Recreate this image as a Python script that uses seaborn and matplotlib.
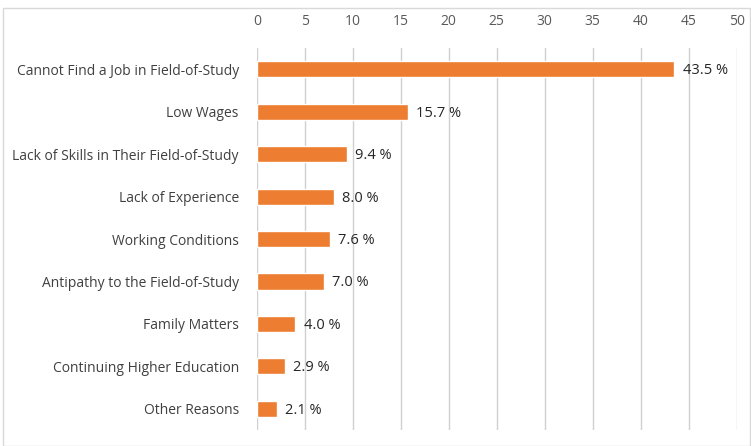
import matplotlib
matplotlib.use("Agg")
import matplotlib.pyplot as plt
import pandas as pd
import seaborn as sns
from matplotlib.patches import Rectangle

# data
reasons = [
    "Cannot Find a Job in Field-of-Study",
    "Low Wages",
    "Lack of Skills in Their Field-of-Study",
    "Lack of Experience",
    "Working Conditions",
    "Antipathy to the Field-of-Study",
    "Family Matters",
    "Continuing Higher Education",
    "Other Reasons",
]
percent = [43.5, 15.7, 9.4, 8.0, 7.6, 7.0, 4.0, 2.9, 2.1]
xticks = [0, 5, 10, 15, 20, 25, 30, 35, 40, 45, 50]

df = pd.DataFrame({"reason": reasons, "percent": percent})

sns.set_style("white")
plt.rcParams["font.family"] = ["Open Sans", "DejaVu Sans"]

fig = plt.figure(figsize=(7.51, 4.46), dpi=100)
ax = fig.add_axes([0.342, 0.036, 0.639, 0.856])

sns.barplot(data=df, x="percent", y="reason", color="#ED7D31", width=0.38,
            saturation=1, ax=ax, zorder=3)

ax.set_xlim(0, 50)
ax.set_xticks(xticks)
ax.xaxis.tick_top()
ax.tick_params(axis="x", length=0, pad=14, labelsize=10, labelcolor="#595959")
ax.tick_params(axis="y", length=0, pad=13, labelsize=10, labelcolor="#404040")
ax.set_xlabel("")
ax.set_ylabel("")
ax.grid(axis="x", color="#D0D0D0", linewidth=1, zorder=0)
for s in ax.spines.values():
    s.set_visible(False)

# value labels
for i, v in enumerate(percent):
    ax.annotate(f"{v:.1f} %", (v, i), xytext=(6, -1), textcoords="offset points",
                va="center", ha="left", fontsize=10.5, color="#262626")

# light frame around the whole chart
fig.patches.append(Rectangle((0.004, 0.0), 0.995, 0.982, transform=fig.transFigure,
                             fill=False, edgecolor="#D9D9D9", linewidth=1))

fig.savefig("out.png", dpi=100)
